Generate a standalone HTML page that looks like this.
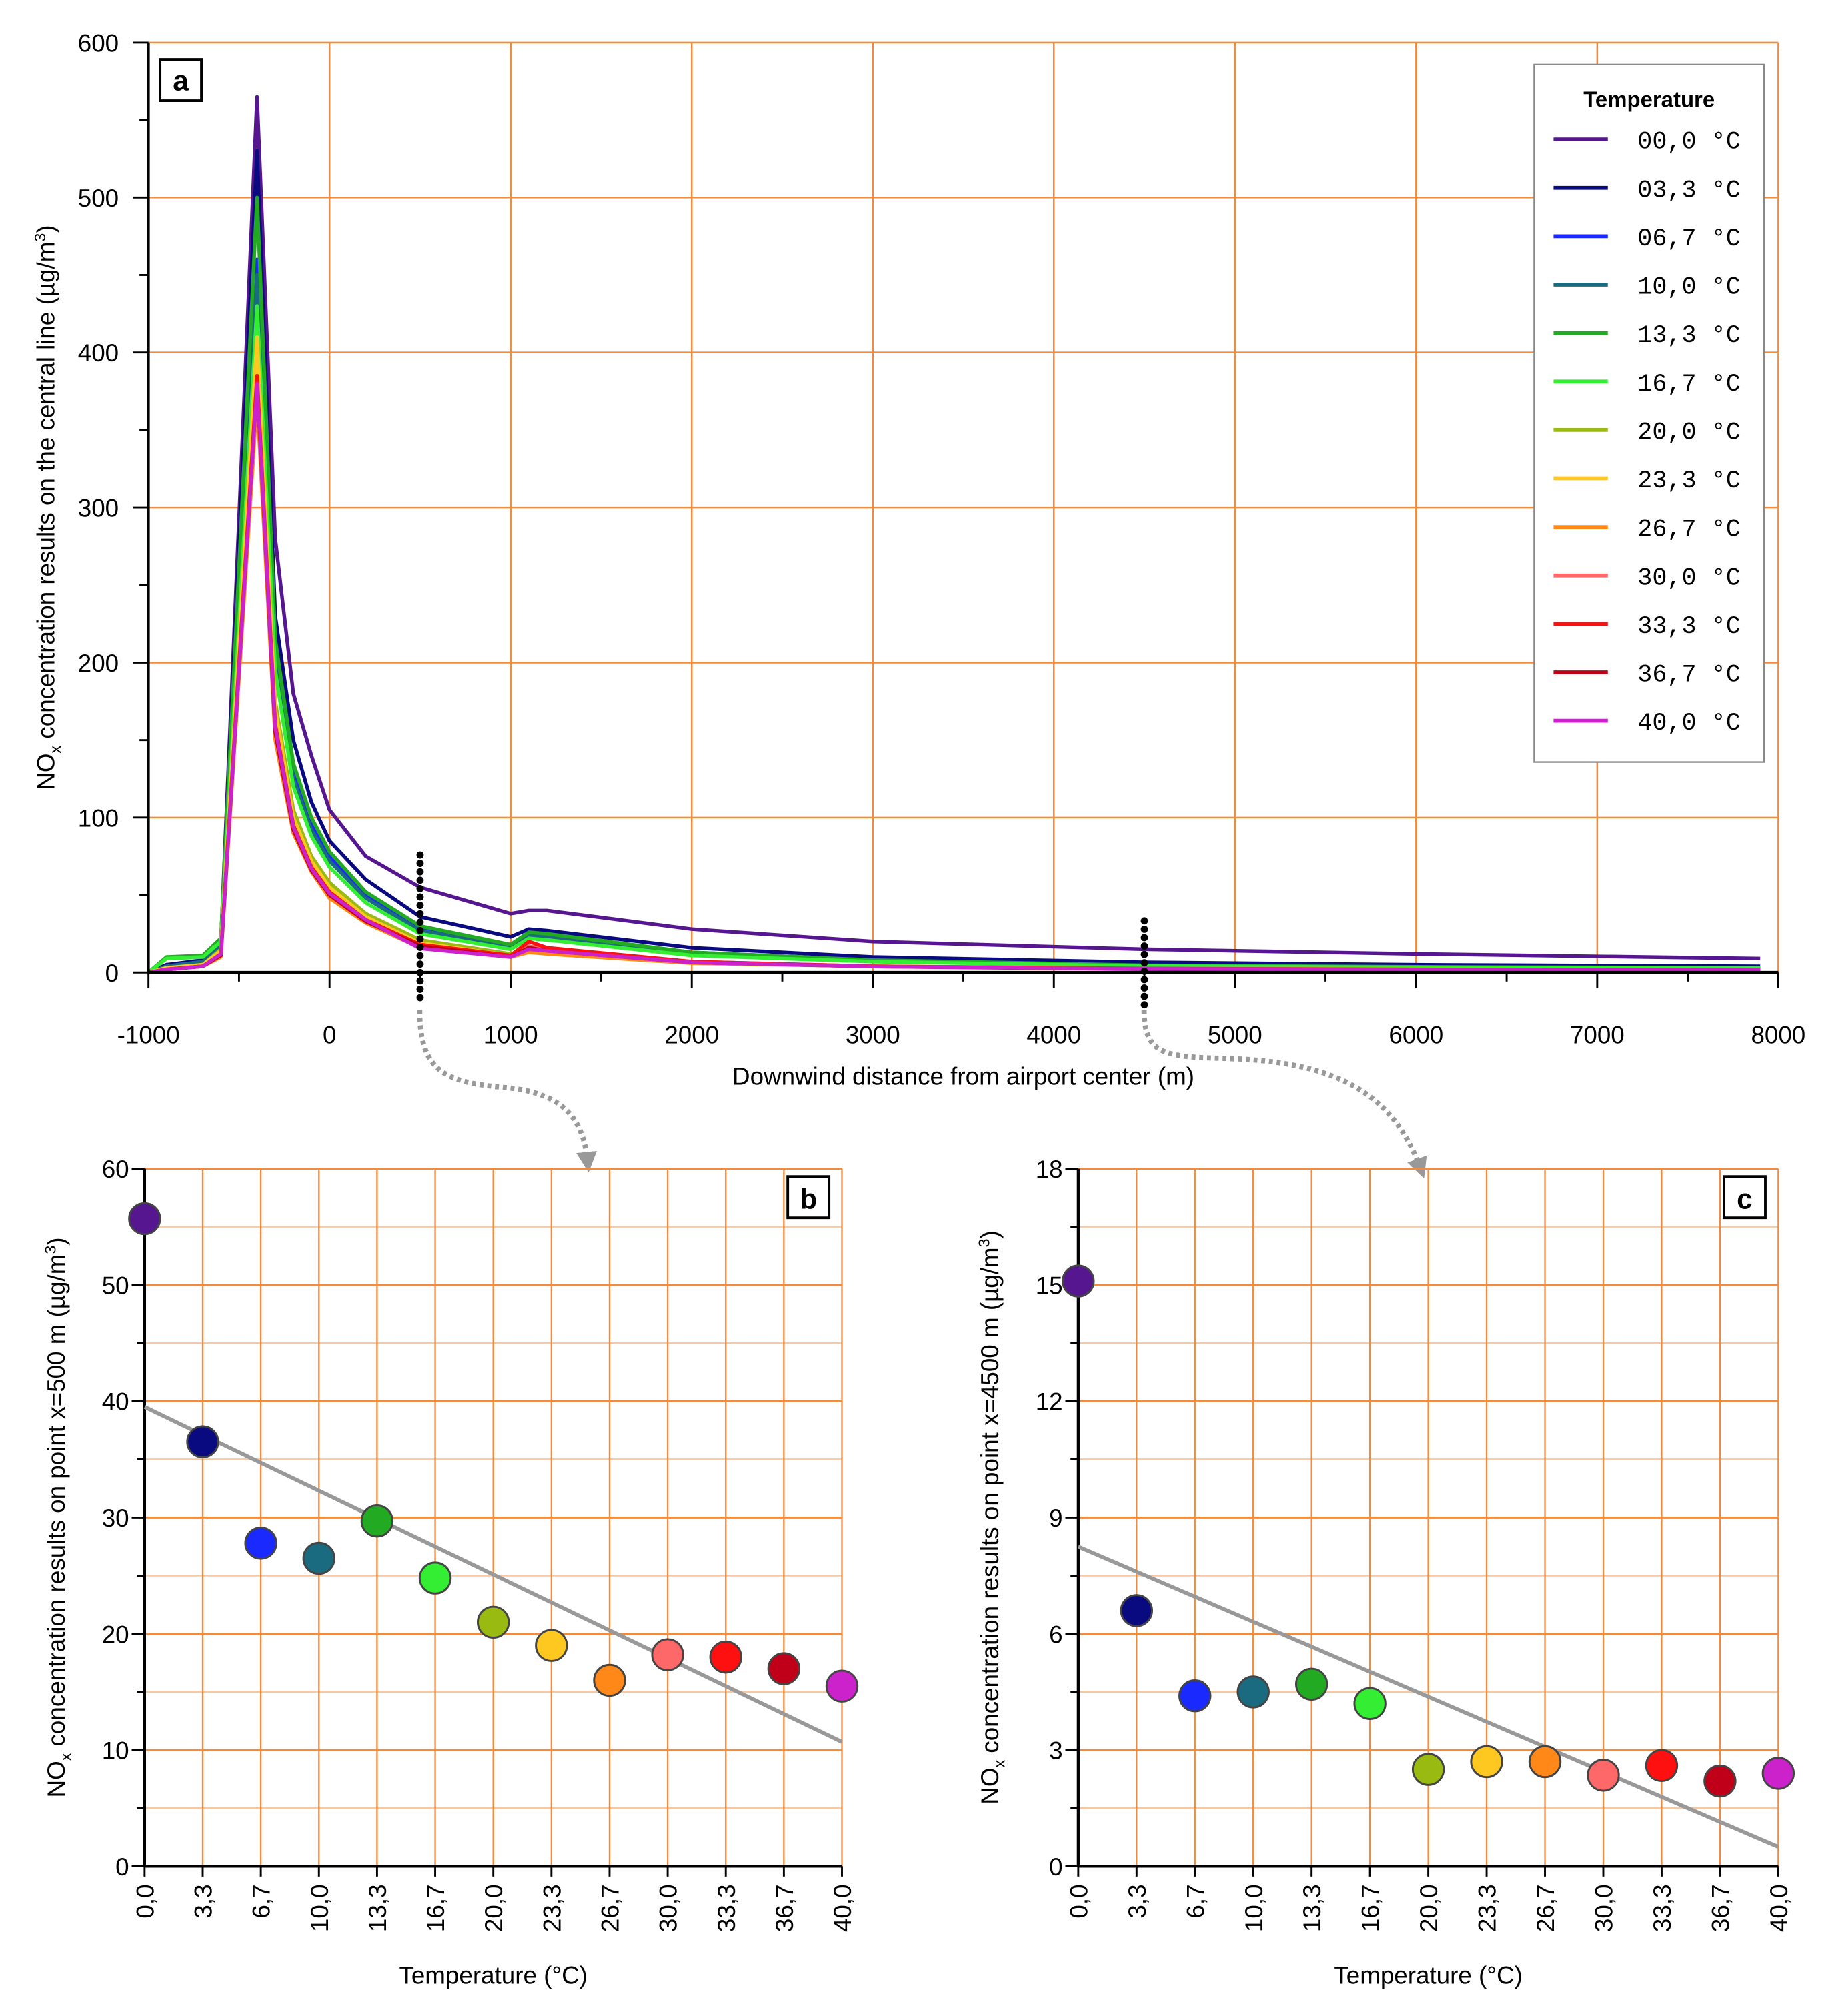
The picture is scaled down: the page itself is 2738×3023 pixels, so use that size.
<!DOCTYPE html>
<html><head><meta charset="utf-8"><style>
html,body{margin:0;padding:0;background:#fff;}
svg{display:block;font-family:"Liberation Sans",sans-serif;}
</style></head><body>
<svg id="fig" width="2738" height="3023" viewBox="0 0 1414 1561" preserveAspectRatio="none" xmlns="http://www.w3.org/2000/svg">
<defs>
<marker id="arr" viewBox="0 0 10 10" refX="5" refY="5" markerWidth="4" markerHeight="4" orient="auto"><path d="M0,0 L10,5 L0,10 z" fill="#999"/></marker>
</defs>
</svg>
<script>
// ---------- data: chart a ----------
const distances = [-1000,-900,-700,-600,-400,-300,-200,-100,0,200,500,1000,1100,1200,2000,3000,4500,6000,7900];
const tempLabels = ["00,0","03,3","06,7","10,0","13,3","16,7","20,0","23,3","26,7","30,0","33,3","36,7","40,0"];
const catLabels = ["0,0","3,3","6,7","10,0","13,3","16,7","20,0","23,3","26,7","30,0","33,3","36,7","40,0"];
const seriesColors = ["#55168f","#0a0a80","#1a2aff","#1a6a80","#22aa22","#33ee33","#99bb11","#ffc820","#ff8818","#ff6868","#ff1010","#c00018","#cc22cc"];
const s00 = [0,5,7,20,565,280,180,140,105,75,55,38,40,40,28,20,15,12,9];
const s03 = [0,5,8,20,530,230,150,110,85,60,36,23,28,27,16,10,6.6,5,4];
const s06 = [0,4,7,18,460,210,130,95,75,50,28,18,25,24,13,8,4.4,3.5,3];
const s10 = [0,4,7,18,450,205,125,92,72,48,27,17,24,23,12,7.5,4.5,3.5,3];
const s13 = [0,10,11,22,500,215,135,100,78,52,30,18,26,25,13,8,4.7,3.7,3];
const s16 = [0,9,10,20,430,195,120,88,68,45,25,15,22,21,11,7,4.2,3.3,2.8];
const s20 = [0,3,5,15,400,175,105,75,58,38,21,12,15,14,7,4,2.5,2,1.8];
const s23 = [0,3,5,14,410,170,100,72,55,36,19,11,14,13,6.5,4,2.7,2,1.8];
const s26 = [0,2,4,10,370,150,90,65,48,32,16,10,13,12,6,4,2.7,2,1.8];
const s30 = [0,2,4,12,380,160,95,68,52,34,18,11,17,15,7,4,2.3,1.8,1.5];
const s33 = [0,2,4,12,385,160,95,68,52,34,18,11,20,16,7,4,2.6,2,1.7];
const s36 = [0,2,4,11,380,155,92,66,50,33,17,10,16,14,6.5,3.8,2.2,1.7,1.5];
const s40 = [0,2,4,12,380,158,94,67,51,34,15.5,10,15,14,6.5,3.8,2.4,1.8,1.6];
const allSeries = [s00,s03,s06,s10,s13,s16,s20,s23,s26,s30,s33,s36,s40];
const xTicksA = [-1000,0,1000,2000,3000,4000,5000,6000,7000,8000];
const yTicksA = [0,100,200,300,400,500,600];
// ---------- data: chart b / c ----------
const valuesB = [55.7,36.5,27.8,26.5,29.7,24.8,21,19,16,18.2,18,17,15.5];
const fitB = [39.5,10.7];
const yTicksB = [0,10,20,30,40,50,60];
const valuesC = [15.1,6.6,4.4,4.5,4.7,4.2,2.5,2.7,2.7,2.35,2.6,2.2,2.4];
const fitC = [8.25,0.5];
const yTicksC = [0,3,6,9,12,15,18];

const NS="http://www.w3.org/2000/svg";
const svg=document.getElementById('fig');
function mk(tag,attrs,parent,text){const e=document.createElementNS(NS,tag);for(const k in attrs)e.setAttribute(k,attrs[k]);if(text!==undefined)e.textContent=text;(parent||svg).appendChild(e);return e;}

// ---------- chart a ----------
const gA=mk('g',{});


const AX0=115,AX1=1377,AY0=753,AY1=33;
const xA=v=>AX0+(v+1000)/9000*(AX1-AX0);
const yA=v=>AY0-v/600*(AY0-AY1);
for(let v=0;v<=8000;v+=1000){mk('line',{x1:xA(v),x2:xA(v),y1:AY1,y2:AY0,stroke:'#f58a3a','stroke-width':1.3},gA);}
for(const v of yTicksA){if(v>0)mk('line',{x1:AX0,x2:AX1,y1:yA(v),y2:yA(v),stroke:'#f58a3a','stroke-width':1.3},gA);}
allSeries.forEach((s,i)=>{
  const d=s.map((v,j)=>(j?'L':'M')+xA(distances[j]).toFixed(1)+','+yA(v).toFixed(1)).join(' ');
  const p=mk('path',{d:d,fill:'none',stroke:seriesColors[i],'stroke-width':2.8,'stroke-linejoin':'round'},gA);
  
  
});
mk('line',{x1:AX0,x2:AX1,y1:AY0,y2:AY0,stroke:'#000','stroke-width':2.5},gA);
mk('line',{x1:AX0,x2:AX0,y1:AY1,y2:AY0,stroke:'#000','stroke-width':2},gA);
for(let v=-1000;v<=8000;v+=500){mk('line',{x1:xA(v),x2:xA(v),y1:AY0,y2:AY0+(v%1000===0?12:7),stroke:'#000','stroke-width':1.5},gA);}
for(let v=0;v<=600;v+=50){mk('line',{x1:AX0,x2:AX0-(v%100===0?12:7),y1:yA(v),y2:yA(v),stroke:'#000','stroke-width':1.5},gA);}
for(const v of xTicksA){const t=mk('text',{x:xA(v),y:808,'text-anchor':'middle','font-size':19},gA,String(v));}
for(const v of yTicksA){const t=mk('text',{x:92,y:yA(v)+7,'text-anchor':'end','font-size':19},gA,String(v));}
let t=mk('text',{x:746,y:840,'text-anchor':'middle','font-size':19},gA,'Downwind distance from airport center (m)');

t=mk('text',{transform:'translate(42,393) rotate(-90)','text-anchor':'middle','font-size':19},gA);
t.innerHTML='NO<tspan font-size="12" dy="5">x</tspan><tspan dy="-5"> concentration results on the central line (µg/m</tspan><tspan font-size="12" dy="-7">3</tspan><tspan dy="7">)</tspan>';

mk('rect',{x:124,y:46,width:32,height:32,fill:'#fff',stroke:'#000','stroke-width':2},gA);
t=mk('text',{x:140,y:70,'text-anchor':'middle','font-size':22,'font-weight':'bold'},gA,'a');

const lg=mk('g',{},gA);


mk('rect',{x:1188,y:50,width:178,height:540,fill:'#fff',stroke:'#888','stroke-width':1.2},lg);
mk('text',{x:1277,y:83,'text-anchor':'middle','font-size':17,'font-weight':'bold'},lg,'Temperature');
tempLabels.forEach((lab,i)=>{
  const y=108+i*37.5;
  const e=mk('g',{},lg);
  
  
  mk('line',{x1:1203,x2:1245,y1:y,y2:y,stroke:seriesColors[i],'stroke-width':3},e);
  mk('text',{x:1268,y:y+7,'font-size':19,'font-family':'"Liberation Mono",monospace'},e,lab+' °C');
});
function dots(x,y1,y2,name){const g=mk('g',{});for(let y=y1;y<=y2;y+=6.5)mk('circle',{cx:x,cy:y,r:2.8,fill:'#000'},g);}
dots(xA(500),662,776,'marker-x500');
dots(xA(4500),713,780,'marker-x4500');
let ar=mk('path',{d:'M325,782 C325,830 345,838 390,842 C440,846 452,870 455,900',fill:'none',stroke:'#999','stroke-width':4,'stroke-dasharray':'3 3','marker-end':'url(#arr)'});

ar=mk('path',{d:'M886,782 C886,820 905,818 960,820 C1040,824 1080,850 1100,905',fill:'none',stroke:'#999','stroke-width':4,'stroke-dasharray':'3 3','marker-end':'url(#arr)'});


function scatter(name,X0,X1,Y0,Y1,ymax,ticks,minorStep,values,fit,label,ytitle,ytitleX){
  const g=mk('g',{});
  
  
  const n=catLabels.length;
  const xs=i=>X0+i*(X1-X0)/(n-1);
  const ys=v=>Y0-v/ymax*(Y0-Y1);
  for(let v=minorStep;v<ymax;v+=minorStep*2)mk('line',{x1:X0,x2:X1,y1:ys(v),y2:ys(v),stroke:'#f8c8a0','stroke-width':1.2},g);
  for(const v of ticks){if(v>0)mk('line',{x1:X0,x2:X1,y1:ys(v),y2:ys(v),stroke:'#f58a3a','stroke-width':1.4},g);}
  for(let i=1;i<n;i++)mk('line',{x1:xs(i),x2:xs(i),y1:Y1,y2:Y0,stroke:'#f58a3a','stroke-width':1.2},g);
  mk('line',{x1:X0,x2:X1,y1:Y0,y2:Y0,stroke:'#000','stroke-width':2.2},g);
  mk('line',{x1:X0,x2:X0,y1:Y1,y2:Y0,stroke:'#000','stroke-width':2.2},g);
  for(let v=0;v<=ymax+1e-9;v+=minorStep)mk('line',{x1:X0,x2:X0-(Math.round(v/minorStep)%2===0?10:6),y1:ys(v),y2:ys(v),stroke:'#000','stroke-width':1.5},g);
  for(const v of ticks){const tt=mk('text',{x:X0-12,y:ys(v)+7,'text-anchor':'end','font-size':19},g,String(v));}
  catLabels.forEach((c,i)=>{
    mk('line',{x1:xs(i),x2:xs(i),y1:Y0,y2:Y0+8,stroke:'#000','stroke-width':1.5},g);
    const tt=mk('text',{transform:`translate(${xs(i)+7},${Y0+14}) rotate(-90)`,'text-anchor':'end','font-size':19},g,c);
    
  });
  const fl=mk('line',{x1:X0,x2:X1,y1:ys(fit[0]),y2:ys(fit[1]),stroke:'#999','stroke-width':3},g);
  
  values.forEach((v,i)=>{
    const c=mk('circle',{cx:xs(i),cy:ys(v),r:12,fill:seriesColors[i],stroke:'#444','stroke-width':1.5},g);
    
    
  });
  mk('rect',{x:X1-42,y:Y1+6,width:32,height:32,fill:'#fff',stroke:'#000','stroke-width':2},g);
  const pl=mk('text',{x:X1-26,y:Y1+31,'text-anchor':'middle','font-size':22,'font-weight':'bold'},g,label);
  
  const xt=mk('text',{x:(X0+X1)/2,y:1536,'text-anchor':'middle','font-size':19},g,'Temperature (°C)');
  
  const yt=mk('text',{transform:`translate(${ytitleX},1175) rotate(-90)`,'text-anchor':'middle','font-size':19},g);
  yt.innerHTML='NO<tspan font-size="12" dy="5">x</tspan><tspan dy="-5"> concentration results on point '+ytitle+' (µg/m</tspan><tspan font-size="12" dy="-7">3</tspan><tspan dy="7">)</tspan>';
  
}
scatter('chart-b',112,652,1445,905,60,yTicksB,5,valuesB,fitB,'b','x=500 m',50);
scatter('chart-c',835,1377,1445,905,18,yTicksC,1.5,valuesC,fitC,'c','x=4500 m',773);
</script>
</body></html>
